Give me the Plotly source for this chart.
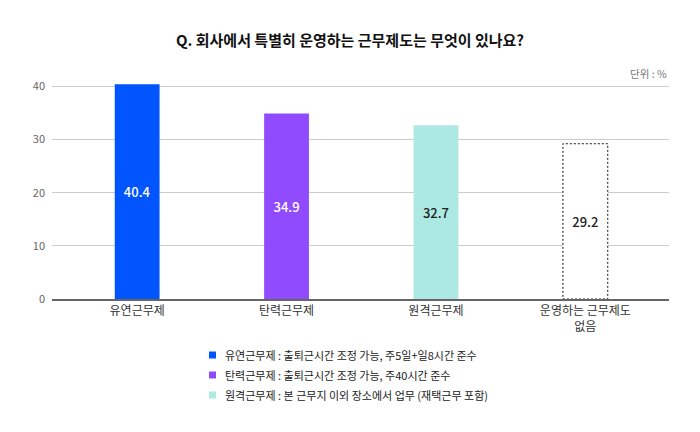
import plotly.graph_objects as go

categories = ["유연근무제", "탄력근무제", "원격근무제", "운영하는 근무제도<br>없음"]
values = [40.4, 34.9, 32.7, 29.2]
colors = ["#0055FF", "#914BFF", "#ADE9E3", "#FFFFFF"]
text_colors = ["#FFFFFF", "#FFFFFF", "#222222", "#222222"]
legend_labels = [
    "유연근무제 : 출퇴근시간 조정 가능, 주5일+일8시간 준수",
    "탄력근무제 : 출퇴근시간 조정 가능, 주40시간 준수",
    "원격근무제 : 본 근무지 이외 장소에서 업무 (재택근무 포함)",
]
y_ticks = [0, 10, 20, 30, 40]

FONT = "Noto Sans CJK KR"
BAR_W = 0.3
W, H = 700, 432
ML, MR, MT, MB = 52, 31, 81, 133
PW, PH = W - ML - MR, H - MT - MB

fig = go.Figure()
fig.add_trace(go.Bar(
    x=list(range(len(categories))), y=values,
    marker=dict(color=colors, line=dict(width=0)),
    width=BAR_W,
    text=[f"{v:.1f}" for v in values],
    textposition="inside", insidetextanchor="middle",
    textfont=dict(family=FONT, size=13, color=text_colors, weight=500),
    showlegend=False, hoverinfo="skip",
))

# dotted outline for the last (no-program) bar
i_last = len(values) - 1
fig.add_shape(type="rect", xref="x", yref="y",
              x0=i_last - BAR_W / 2, x1=i_last + BAR_W / 2, y0=0, y1=values[i_last],
              line=dict(color="#111111", width=1, dash="2px,2px"), fillcolor="rgba(0,0,0,0)")

fig.update_layout(
    width=W, height=H,
    margin=dict(l=ML, r=MR, t=MT, b=MB),
    paper_bgcolor="#FFFFFF", plot_bgcolor="#FFFFFF",
    font=dict(family=FONT, color="#333333"),
    title=dict(text="Q. 회사에서 특별히 운영하는 근무제도는 무엇이 있나요?",
               x=0.5, xanchor="center", y=1 - 41 / H, yanchor="middle",
               font=dict(family=FONT, size=15, color="#111111", weight=600)),
    xaxis=dict(tickmode="array", tickvals=list(range(len(categories))), ticktext=categories,
               range=[-0.57, 3.56], showgrid=False, zeroline=False,
               showline=True, linecolor="#666666", linewidth=1.5,
               ticks="", tickfont=dict(family=FONT, size=12, color="#333333")),
    yaxis=dict(range=[0, 41], tickvals=y_ticks, showgrid=True, gridcolor="#CCCCCC",
               gridwidth=1, zeroline=False, showline=False, ticks="",
               ticklabelstandoff=6,
               tickfont=dict(family=FONT, size=11, color="#666666")),
)

annotations = [dict(text="단위 : %", xref="paper", yref="paper", x=1, y=1 + 8 / PH,
                    xanchor="right", yanchor="middle", showarrow=False,
                    font=dict(family=FONT, size=10.5, color="#777777"))]
legend_top = 355
for k, lab in enumerate(legend_labels):
    ypx = legend_top + 20 * k
    yp = (H - MB - ypx) / PH
    fig.add_shape(type="rect", xref="paper", yref="paper",
                  x0=(209 - ML) / PW, x1=(216 - ML) / PW,
                  y0=yp - 3.5 / PH, y1=yp + 3.5 / PH,
                  line=dict(width=0), fillcolor=colors[k])
    annotations.append(dict(text=lab, xref="paper", yref="paper",
                            x=(223 - ML) / PW, y=yp, xanchor="left", yanchor="middle",
                            showarrow=False,
                            font=dict(family=FONT, size=11, color="#222222")))
fig.update_layout(annotations=annotations)

fig.write_html("out.html", config={"displayModeBar": False},
               post_script="document.body.style.margin='0';document.body.style.padding='0';")
